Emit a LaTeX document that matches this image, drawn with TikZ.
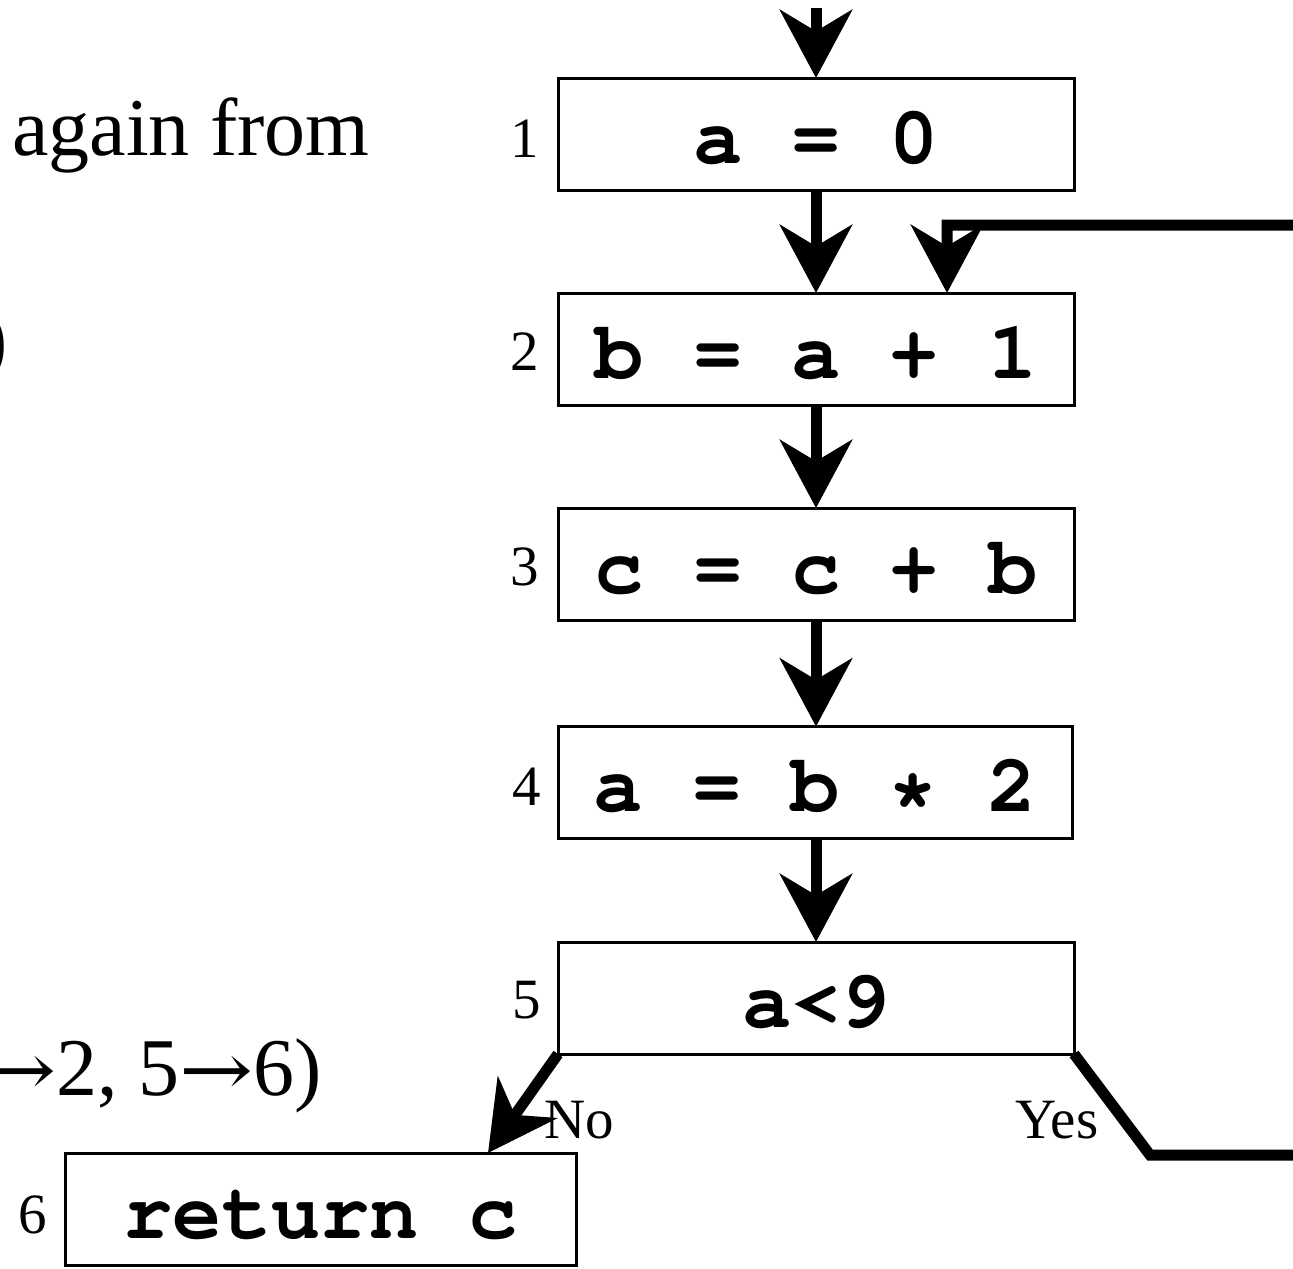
\documentclass[tikz,border=0pt]{standalone}
\usepackage{fontspec}
\setmainfont{Liberation Serif}
\setmonofont{Liberation Mono}
\newfontfamily\arrfont{DejaVu Serif}
\usetikzlibrary{arrows.meta,calc}
\newcommand{\courb}{\fontencoding{T1}\fontfamily{pcr}\fontseries{b}\fontshape{n}\selectfont}
\newcommand{\rar}{\scalebox{1.08}[0.9]{{\arrfont →}}}
\begin{document}
\begin{tikzpicture}[x=0.75pt,y=-0.75pt,
  box/.style={draw, line width=2.25pt, inner sep=0pt, outer sep=0pt,
    minimum width=387pt, minimum height=84pt, text height=44pt, text depth=0pt,
    font=\fontsize{61.5}{70}\courb},
  num/.style={inner sep=0pt, font=\fontsize{42.75}{50}\selectfont},
  big/.style={inner sep=0pt, font=\fontsize{61.5}{70}\selectfont},
  flow/.style={line width=8.25pt, line join=miter,
    -{Stealth[length=51pt,width=54pt,inset=16pt]}}]
\useasboundingbox (0,0) rectangle (1293,1268);
\clip (0,0) rectangle (1293,1268);

% left text fragments
\node[big, anchor=base west] (t1) at (12,155) {again from};
\node[big, anchor=base east] (t2) at (8,366) {)};
\node[big, anchor=base east] (t3) at (322,1095) {\rar2, 5\rar6)};

% boxes
\node[box] (b1) at (816,134) {a = 0};
\node[box] (b2) at (816,349) {b = a + 1};
\node[box] (b3) at (816,564) {c = c + b};
\node[box, minimum width=385.5pt] (b4) at (815,782.5) {a = b * 2};
\node[box] (b5) at (816,998) {a<9};
\node[box, minimum width=383.25pt] (b6) at (320.5,1209) {return c};

% numbers
\node[num] (n1) at (525,139) {1};
\node[num] (n2) at (525,352) {2};
\node[num] (n3) at (525,567) {3};
\node[num] (n4) at (527,787) {4};
\node[num] (n5) at (527,1000) {5};
\node[num] (n6) at (33,1215) {6};

% arrows
\coordinate (top) at (816,8);
\draw[flow] (top) -- (b1.north);
\draw[flow] (b1) -- (b2);
\draw[flow] (b2) -- (b3);
\draw[flow] (b3) -- (b4.north -| b3.south);
\draw[flow] (b4.south -| b3.south) -- (b5);

% loop back
\coordinate (y1) at (1150,1155);
\coordinate (y2) at (1330,1155);
\coordinate (y3) at (1330,225);
\coordinate (y4) at (947,225);
\draw[flow] (b5.south east) -- (y1) -- (y2) -- (y3) -- (y4) -- (b2.north -| y4);

% no branch
\coordinate (ntip) at (488,1153);
\draw[flow] (b5.south west) -- (b6.north -| ntip);

% labels
\node[num] (lno) at (579,1120) {No};
\node[num] (lyes) at (1057,1120) {Yes};
\end{tikzpicture}
\end{document}
